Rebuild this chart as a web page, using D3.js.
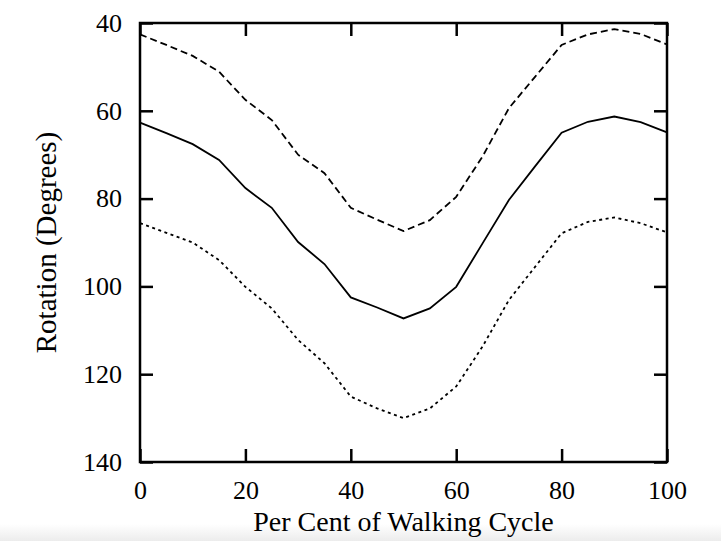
<!DOCTYPE html>
<html lang="en">
<head>
    <meta charset="UTF-8">
    <title>Rotation over the Walking Cycle</title>
    <script src="https://d3js.org/d3.v7.min.js"></script>
    <style>
        body { margin: 0; background: #fff; }
        text { font-family: "Liberation Serif", "Times New Roman", serif; fill: #000; }
    </style>
</head>
<body>
    <svg id="chart" width="721" height="541"></svg>

    <script>
        // per cent of walking cycle, every 5%
        const pct = [0, 5, 10, 15, 20, 25, 30, 35, 40, 45, 50, 55, 60, 65, 70, 75, 80, 85, 90, 95, 100];
        // mean rotation (solid)
        const mean = [62.7, 65.1, 67.6, 71.2, 77.6, 82.1, 89.9, 94.9, 102.5, 104.8, 107.3, 105.0, 100.1, 90.2, 80.3, 72.6, 65.0, 62.5, 61.3, 62.6, 64.9];
        // upper band (dashed)
        const upper = [42.6, 45.0, 47.5, 51.1, 57.5, 62.1, 70.0, 74.2, 82.1, 84.8, 87.4, 84.9, 79.6, 70.4, 59.4, 52.2, 45.0, 42.6, 41.4, 42.5, 44.9];
        // lower band (dotted)
        const lower = [85.6, 87.8, 90.0, 94.0, 100.1, 105.0, 112.2, 117.5, 125.1, 127.8, 130.0, 127.8, 122.8, 113.7, 103.1, 95.5, 87.9, 85.3, 84.3, 85.6, 87.7];
        const xTicks = [0, 20, 40, 60, 80, 100];
        const yTicks = [40, 60, 80, 100, 120, 140];

        const svg = d3.select("#chart");
        const m = { left: 140, right: 667, top: 23, bottom: 462 };

        // faint grey band at the very bottom of the photo
        const grad = svg.append("defs").append("linearGradient")
            .attr("id", "fade").attr("x1", 0).attr("x2", 0).attr("y1", 0).attr("y2", 1);
        grad.append("stop").attr("offset", "0%").attr("stop-color", "#fff");
        grad.append("stop").attr("offset", "100%").attr("stop-color", "#ececec");
        svg.append("rect").attr("x", 0).attr("y", 524).attr("width", 721).attr("height", 17)
            .attr("fill", "url(#fade)");

        const x = d3.scaleLinear().domain([0, 100]).range([m.left, m.right]);
        const y = d3.scaleLinear().domain([40, 140]).range([m.top, m.bottom]);

        function styleAxis(g) {
            g.select(".domain").remove();
            g.selectAll(".tick line").attr("stroke", "#000").attr("stroke-width", 2.5);
            g.selectAll(".tick text").style("font-size", "26px").attr("fill", "#000");
        }

        svg.append("g").attr("transform", `translate(0,${m.bottom})`)
            .call(d3.axisBottom(x).tickValues(xTicks).tickSizeInner(-13).tickSizeOuter(0).tickPadding(18.5))
            .call(styleAxis);
        svg.append("g").attr("transform", `translate(0,${m.top})`)
            .call(d3.axisTop(x).tickValues(xTicks).tickSizeInner(-13).tickSizeOuter(0).tickFormat(""))
            .call(styleAxis);
        svg.append("g").attr("transform", `translate(${m.left},0)`)
            .call(d3.axisLeft(y).tickValues(yTicks).tickSizeInner(-13).tickSizeOuter(0).tickPadding(18))
            .call(styleAxis);
        svg.append("g").attr("transform", `translate(${m.right},0)`)
            .call(d3.axisRight(y).tickValues(yTicks).tickSizeInner(-13).tickSizeOuter(0).tickFormat(""))
            .call(styleAxis);

        // frame
        svg.append("rect")
            .attr("x", m.left).attr("y", m.top)
            .attr("width", m.right - m.left).attr("height", m.bottom - m.top)
            .attr("fill", "none").attr("stroke", "#000").attr("stroke-width", 2.5);

        const line = d3.line().x((d, i) => x(pct[i])).y(d => y(d));
        const series = [
            { values: upper, dash: "7,4" },
            { values: mean, dash: null },
            { values: lower, dash: "3,3.5" }
        ];
        svg.selectAll(".series")
            .data(series)
            .enter().append("path")
            .attr("class", "series")
            .attr("d", d => line(d.values))
            .attr("fill", "none")
            .attr("stroke", "#000")
            .attr("stroke-width", 1.8)
            .attr("stroke-dasharray", d => d.dash);

        // axis titles
        svg.append("text")
            .attr("x", (m.left + m.right) / 2).attr("y", 531)
            .attr("text-anchor", "middle")
            .style("font-size", "28px")
            .text("Per Cent of Walking Cycle");
        svg.append("text")
            .attr("transform", `translate(56,${(m.top + m.bottom) / 2}) rotate(-90)`)
            .attr("text-anchor", "middle")
            .style("font-size", "29px")
            .text("Rotation (Degrees)");
    </script>
</body>
</html>
